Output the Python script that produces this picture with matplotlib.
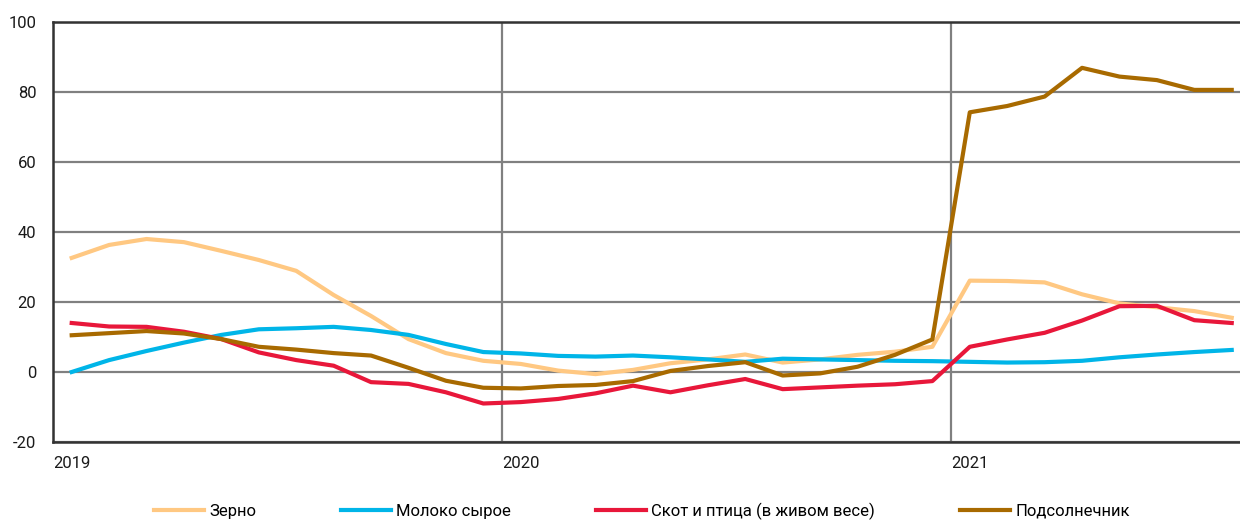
import numpy as np
import matplotlib
matplotlib.use('Agg')
import matplotlib.pyplot as plt

plt.rcParams['font.family'] = ['Roboto', 'DejaVu Sans']
plt.rcParams['axes.unicode_minus'] = False

# Месяцы: январь 2019 - август 2021
months = np.arange(32)
year_labels = ['2019', '2020', '2021']

zerno = [32.6, 36.3, 38.0, 37.1, 34.6, 32.0, 28.9, 22.0, 16.0, 9.4, 5.4, 3.2,
         2.3, 0.4, -0.6, 0.6, 2.5, 3.6, 5.0, 2.7, 3.6, 4.9, 5.8, 7.2,
         26.1, 26.0, 25.6, 22.2, 19.6, 18.5, 17.4, 15.5]
moloko = [0.0, 3.4, 6.0, 8.4, 10.6, 12.2, 12.5, 12.9, 12.0, 10.6, 8.0, 5.7,
          5.3, 4.6, 4.4, 4.7, 4.2, 3.6, 2.9, 3.8, 3.6, 3.4, 3.2, 3.1,
          2.9, 2.7, 2.8, 3.2, 4.2, 5.0, 5.7, 6.3]
skot = [14.0, 13.0, 12.9, 11.5, 9.4, 5.6, 3.4, 1.8, -2.9, -3.4, -5.8, -9.0,
        -8.6, -7.7, -6.1, -3.9, -5.8, -3.8, -2.0, -4.9, -4.4, -3.9, -3.5, -2.6,
        7.2, 9.3, 11.2, 14.7, 18.8, 18.9, 14.8, 14.0]
podsolnechnik = [10.5, 11.1, 11.7, 11.0, 9.4, 7.2, 6.4, 5.4, 4.7, 1.2, -2.5, -4.5,
                 -4.7, -4.0, -3.7, -2.6, 0.3, 1.7, 2.8, -1.0, -0.4, 1.5, 4.9, 9.3,
                 74.2, 76.0, 78.7, 86.9, 84.4, 83.4, 80.6, 80.6]

series = [
    ('Зерно', zerno, '#FFC882'),
    ('Молоко сырое', moloko, '#00B5E8'),
    ('Скот и птица (в живом весе)', skot, '#E8173A'),
    ('Подсолнечник', podsolnechnik, '#A86A00'),
]

fig = plt.figure(figsize=(12.4, 5.2), dpi=100)
ax = fig.add_axes([53 / 1240, 78 / 520, 1187 / 1240, 420 / 520])

for name, vals, col in series:
    ax.plot(months, vals, color=col, lw=3, label=name, zorder=3)

ax.set_ylim(-20, 100)
ax.set_yticks(np.arange(-20, 101, 20))
ax.set_xlim(-0.5, -0.5 + 1187 / 37.42)
ax.set_xticks([-0.5, 11.5, 23.5])
ax.set_xticklabels(year_labels, ha='left')

ax.grid(True, color='#808080', lw=1.6, zorder=1)
ax.tick_params(length=0, labelsize=12, colors='#1a1a1a')
ax.tick_params(axis='x', pad=10)
ax.tick_params(axis='y', pad=12)

for s in ['left', 'top', 'bottom']:
    ax.spines[s].set_color('#333333')
    ax.spines[s].set_linewidth(1.8)
ax.spines['right'].set_visible(False)

fig.legend(loc='center', bbox_to_anchor=(642 / 1240, 1 - 511 / 520), ncol=4,
           frameon=False, fontsize=12, handlelength=3.0, handletextpad=0.3,
           columnspacing=5.1)

plt.savefig('out.png', dpi=100)
